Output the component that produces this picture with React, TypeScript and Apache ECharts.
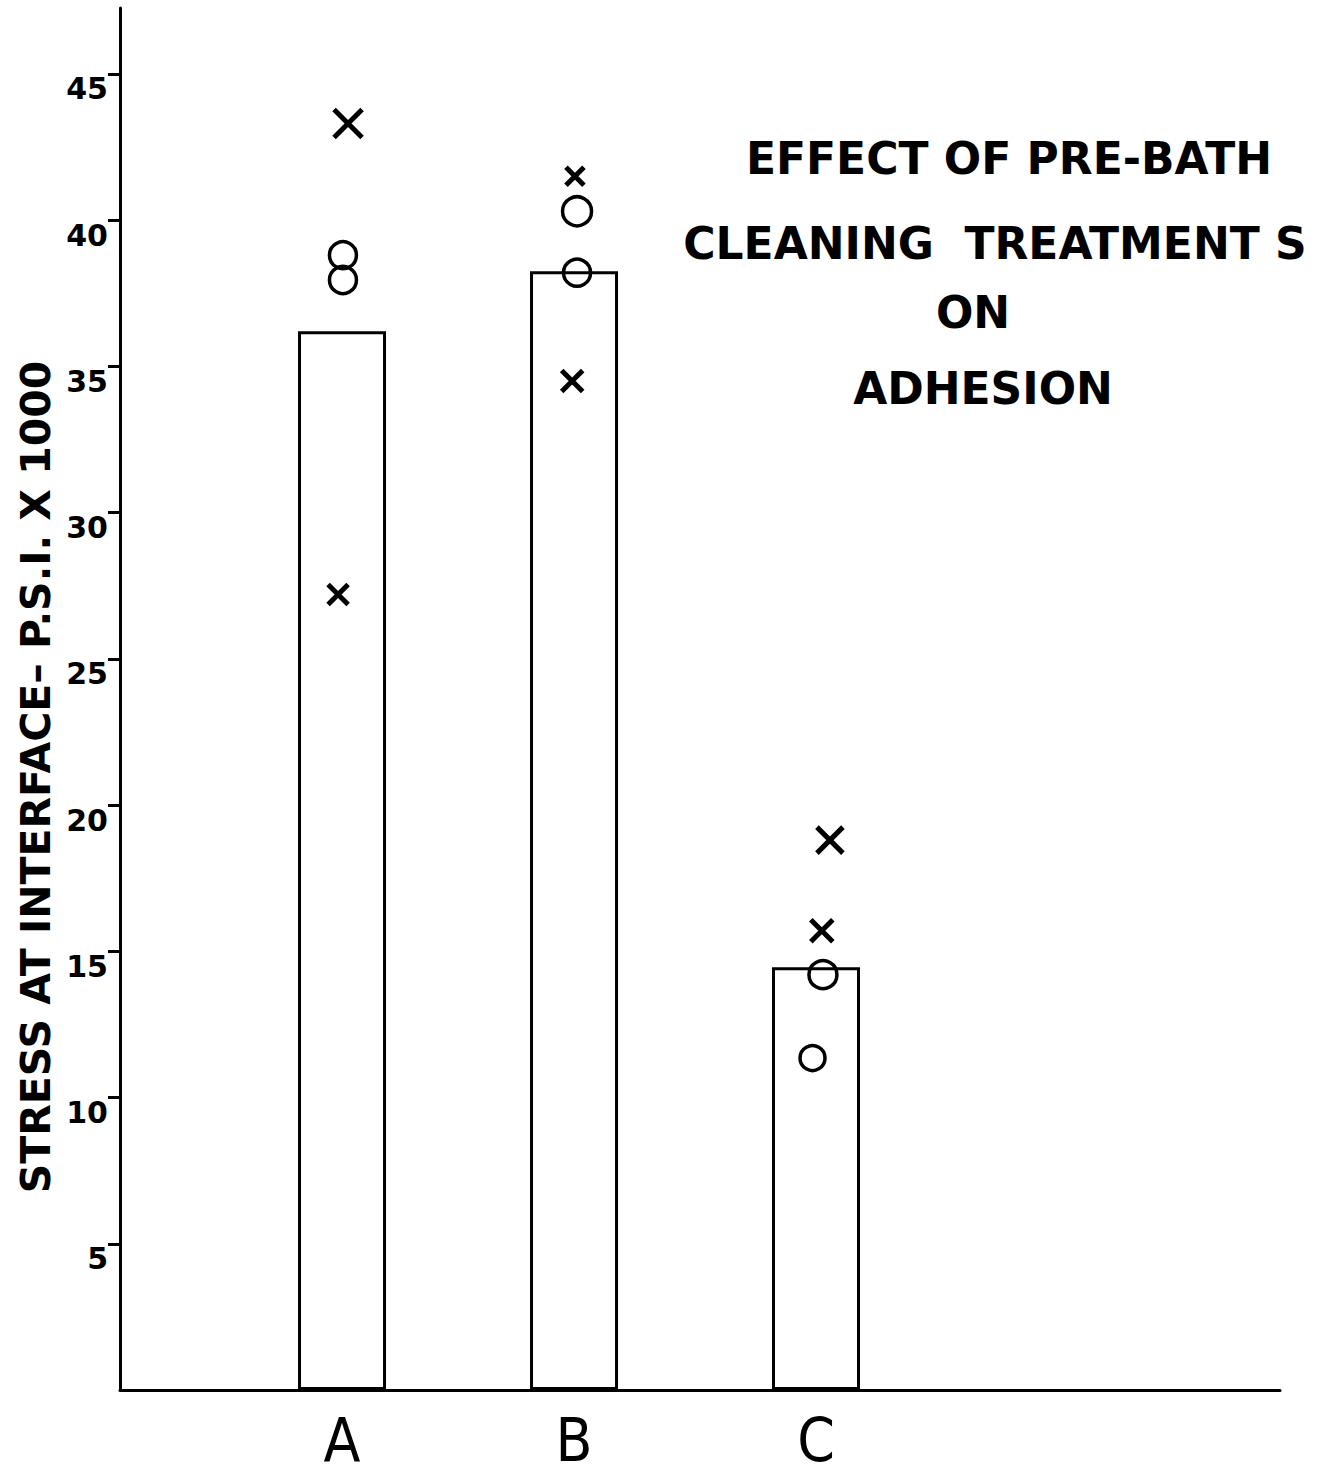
import React, { useEffect, useRef } from "react";
import * as echarts from "echarts";

// ---- data ----
const categories = ["A", "B", "C"];
const categoryPositions = [0.957, 1.957, 3.0];
const barValues = [36.2, 38.25, 14.45];
const crossValues = [
  [43.3, 27.2],
  [41.5, 34.5],
  [18.8, 15.7],
];
const crossOffsets = [
  [0.026, -0.017],
  [0.004, -0.008],
  [0.06, 0.025],
];
const circleValues = [
  [38.8, 37.95],
  [40.3, 38.2],
  [14.2, 11.35],
];
const circleOffsets = [
  [0.004, 0.004],
  [0.013, 0.013],
  [0.03, -0.015],
];
const yTickValues = [5, 10, 15, 20, 25, 30, 35, 40, 45];
const yTickLabels = ["5", "10", "15", "20", "25", "30", "35", "40", "45"];
const titleLines = ["EFFECT OF PRE-BATH", "CLEANING  TREATMENT S", "ON", "ADHESION"];
const yAxisTitle = "STRESS AT INTERFACE\u2013 P.S.I. X 1000";

// ---- styles ----
const crossSizes = [
  [28, 20],
  [18, 21],
  [26, 22],
];
const circleSizes = [
  [27, 27],
  [29, 27],
  [28, 25],
];

export default function App() {
  const ref = useRef<HTMLDivElement>(null);

  useEffect(() => {
    if (!ref.current) return;
    const chart = echarts.init(ref.current, undefined, { renderer: "svg" });

    const barData = categoryPositions.map((x, i) => [x, barValues[i]]);
    const crossData: any[] = [];
    crossValues.forEach((vals, i) =>
      vals.forEach((v, j) =>
        crossData.push({
          value: [categoryPositions[i] + crossOffsets[i][j], v],
          symbolSize: crossSizes[i][j],
        })
      )
    );
    const circleData: any[] = [];
    circleValues.forEach((vals, i) =>
      vals.forEach((v, j) =>
        circleData.push({
          value: [categoryPositions[i] + circleOffsets[i][j], v],
          symbolSize: circleSizes[i][j],
        })
      )
    );

    const titleFont = {
      fontFamily: "DejaVu Sans",
      fontWeight: "bold" as const,
      fontSize: 44,
      fill: "#000",
      align: "center" as const,
      verticalAlign: "middle" as const,
    };
    const titleY = [158, 243, 312, 388];
    const titleX = [1009, 995, 973, 983];

    chart.setOption({
      animation: false,
      backgroundColor: "#fff",
      grid: { left: 120, right: 40, top: 8, bottom: 91, containLabel: false },
      xAxis: {
        type: "value",
        min: 0,
        max: 5,
        axisLine: { show: true, lineStyle: { color: "#000", width: 3 } },
        axisTick: { show: false },
        splitLine: { show: false },
        axisLabel: {
          customValues: categoryPositions,
          margin: 20,
          color: "#000",
          fontSize: 60,
          lineHeight: 60,
          fontFamily: "Liberation Sans Narrow, DejaVu Sans Condensed, sans-serif",
          formatter: (v: number) => {
            let best = 0;
            categoryPositions.forEach((p, i) => {
              if (Math.abs(p - v) < Math.abs(categoryPositions[best] - v)) best = i;
            });
            return categories[best];
          },
        },
      },
      yAxis: {
        type: "value",
        min: 0,
        max: 47.25,
        axisLine: { show: true, lineStyle: { color: "#000", width: 3 } },
        axisTick: {
          show: true,
          length: 12,
          customValues: yTickValues,
          lineStyle: { color: "#000", width: 3 },
        },
        splitLine: { show: false },
        axisLabel: {
          customValues: yTickValues,
          margin: 12,
          color: "#000",
          fontSize: 30,
          fontWeight: "bold",
          fontFamily: "DejaVu Sans",
          verticalAlign: "top",
          formatter: (v: number) => {
            const i = yTickValues.indexOf(Math.round(v));
            return i >= 0 ? yTickLabels[i] : "";
          },
        },
      },
      series: [
        {
          type: "bar",
          data: barData,
          barWidth: 88,
          itemStyle: { color: "#fff", borderColor: "#000", borderWidth: 3 },
          z: 2,
        },
        {
          type: "scatter",
          data: crossData,
          symbol: "path://M0,0L10,10M10,0L0,10",
          itemStyle: { color: "rgba(0,0,0,0)", borderColor: "#000", borderWidth: 5, opacity: 1 },
          z: 3,
        },
        {
          type: "scatter",
          data: circleData,
          symbol: "circle",
          itemStyle: { color: "rgba(0,0,0,0)", borderColor: "#000", borderWidth: 3.5, opacity: 1 },
          z: 3,
        },
      ],
      graphic: [
        ...titleLines.map((t, i) => ({
          type: "text",
          x: titleX[i],
          y: titleY[i],
          style: { ...titleFont, text: t },
        })),
        {
          type: "text",
          x: 36,
          y: 777,
          rotation: Math.PI / 2,
          style: {
            text: yAxisTitle,
            fontFamily: "DejaVu Sans",
            fontWeight: "bold",
            fontSize: 41,
            fill: "#000",
            align: "center",
            verticalAlign: "middle",
          },
        },
      ],
    });

    return () => chart.dispose();
  }, []);

  return (
    <div
      ref={ref}
      style={{ position: "fixed", left: 0, top: 0, width: 1320, height: 1481, background: "#fff" }}
    />
  );
}
